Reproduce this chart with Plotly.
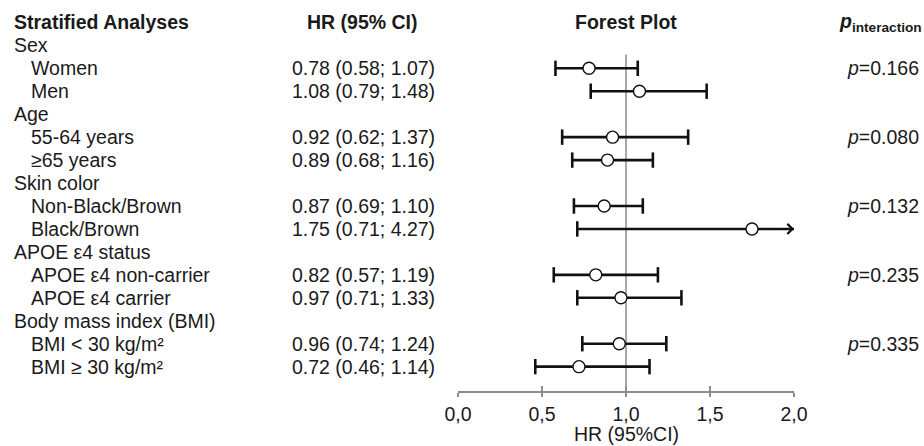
import plotly.graph_objects as go

# ---------------- data ----------------
groups = ["Sex", "Age", "Skin color", "APOE ε4 status", "Body mass index (BMI)"]
subgroups = [
    ["Women", "Men"],
    ["55-64 years", "≥65 years"],
    ["Non-Black/Brown", "Black/Brown"],
    ["APOE ε4 non-carrier", "APOE ε4 carrier"],
    ["BMI < 30 kg/m²", "BMI ≥ 30 kg/m²"],
]
hr = [[0.78, 1.08], [0.92, 0.89], [0.87, 1.75], [0.82, 0.97], [0.96, 0.72]]
ci_low = [[0.58, 0.79], [0.62, 0.68], [0.69, 0.71], [0.57, 0.71], [0.74, 0.46]]
ci_high = [[1.07, 1.48], [1.37, 1.16], [1.10, 4.27], [1.19, 1.33], [1.24, 1.14]]
p_interaction = ["0.166", "0.080", "0.132", "0.235", "0.335"]
tick_vals = [0.0, 0.5, 1.0, 1.5, 2.0]
tick_text = ["0,0", "0,5", "1,0", "1,5", "2,0"]
x_min, x_max = 0.0, 2.0
ref_value = 1.0

# ---------------- styling ----------------
W, H = 924, 446
ML, MR, MT, MB = 458, 130, 0, 55
FONT = "Liberation Sans, Arial, sans-serif"
FS = 19.5
TXT = "#1a1a1a"
GRAY = "#8c8c8c"

def px_to_paper(px):
    return (px - ML) / (W - ML - MR)

X_GROUP = px_to_paper(12)
X_SUB = px_to_paper(29)
X_VAL = px_to_paper(290)
X_HRHEAD = px_to_paper(362)
X_P = px_to_paper(921)

# ---------------- layout of rows ----------------
row_y = []      # (row index, label, is_group, gi, si)
r = 1
for gi, g in enumerate(groups):
    row_y.append((r, g, True, gi, None))
    r += 1
    for si, s in enumerate(subgroups[gi]):
        row_y.append((r, s, False, gi, si))
        r += 1
n_rows = r
row_px0, row_step, axis_px = 22.4, 22.95, H - MB
y_bottom = (axis_px - row_px0) / row_step
y_top = -row_px0 / row_step

fig = go.Figure()

ci_x, ci_y, cap_x, cap_y, pt_x, pt_y = [], [], [], [], [], []
arrows = []
annotations = []
for (ri, label, is_group, gi, si) in row_y:
    annotations.append(dict(
        x=X_GROUP if is_group else X_SUB, y=ri, xref="paper", yref="y",
        text=label, showarrow=False, xanchor="left", yanchor="middle",
        font=dict(family=FONT, size=FS, color=TXT)))
    if is_group:
        continue
    h, lo, hi = hr[gi][si], ci_low[gi][si], ci_high[gi][si]
    annotations.append(dict(
        x=X_VAL, y=ri, xref="paper", yref="y",
        text=f"{h:.2f} ({lo:.2f}; {hi:.2f})", showarrow=False,
        xanchor="left", yanchor="middle",
        font=dict(family=FONT, size=FS, color=TXT)))
    if si == 0:
        annotations.append(dict(
            x=X_P, y=ri, xref="paper", yref="y",
            text=f"<i>p</i>={p_interaction[gi]}", showarrow=False,
            xanchor="right", yanchor="middle",
            font=dict(family=FONT, size=FS, color=TXT)))
    hi_c = min(hi, x_max)
    ci_x += [lo, hi_c, None]
    ci_y += [ri, ri, None]
    cap_x.append(lo); cap_y.append(ri)
    if hi <= x_max:
        cap_x.append(hi); cap_y.append(ri)
    else:
        arrows.append(ri)
    pt_x.append(h); pt_y.append(ri)

# headers
hdr_font = dict(family=FONT, size=FS, color=TXT)
annotations += [
    dict(x=X_GROUP, y=0, xref="paper", yref="y", text="<b>Stratified Analyses</b>",
         showarrow=False, xanchor="left", yanchor="middle", font=hdr_font),
    dict(x=X_HRHEAD, y=0, xref="paper", yref="y", text="<b>HR (95% CI)</b>",
         showarrow=False, xanchor="center", yanchor="middle", font=hdr_font),
    dict(x=0.5, y=0, xref="paper", yref="y", text="<b>Forest Plot</b>",
         showarrow=False, xanchor="center", yanchor="middle", font=hdr_font),
    dict(x=X_P + 0.01, y=0, xref="paper", yref="y",
         text="<b><i>p</i><sub>interaction</sub></b>",
         showarrow=False, xanchor="right", yanchor="middle", font=hdr_font),
    dict(x=0.5, y=(axis_px - 434) / axis_px - 0.0, xref="paper", yref="paper",
         text="HR (95%CI)", showarrow=False, xanchor="center", yanchor="middle",
         font=dict(family=FONT, size=FS, color=TXT)),
]
for ri in arrows:
    annotations.append(dict(
        x=x_max, y=ri, xref="x", yref="y", ax=-24, ay=0,
        showarrow=True, arrowhead=4, arrowsize=1.5, arrowwidth=1.3,
        arrowcolor="#111", text=""))

fig.add_trace(go.Scatter(x=ci_x, y=ci_y, mode="lines",
                         line=dict(color="#111", width=2.6),
                         hoverinfo="skip", showlegend=False, cliponaxis=False))
fig.add_trace(go.Scatter(x=cap_x, y=cap_y, mode="markers",
                         marker=dict(symbol="line-ns", size=11,
                                     line=dict(color="#111", width=2.6)),
                         hoverinfo="skip", showlegend=False, cliponaxis=False))
fig.add_trace(go.Scatter(x=pt_x, y=pt_y, mode="markers",
                         marker=dict(symbol="circle", size=12, color="white",
                                     line=dict(color="#111", width=1.4)),
                         showlegend=False, cliponaxis=False))
# invisible trace for the upper tick half
fig.add_trace(go.Scatter(x=[x_min], y=[1], xaxis="x2", mode="markers",
                         marker=dict(opacity=0), hoverinfo="skip", showlegend=False))

# reference line at HR = 1
fig.add_shape(type="line", xref="x", yref="y", x0=ref_value, x1=ref_value,
              y0=1.4, y1=y_bottom, line=dict(color=GRAY, width=1.5), layer="below")

fig.update_layout(
    width=W, height=H,
    margin=dict(l=ML, r=MR, t=MT, b=MB, pad=0),
    paper_bgcolor="white", plot_bgcolor="white",
    annotations=annotations,
    xaxis=dict(range=[x_min, x_max], tickvals=tick_vals, ticktext=tick_text,
               showgrid=False, zeroline=False, showline=True, linecolor=GRAY,
               linewidth=1.5, ticks="outside", ticklen=4, tickwidth=1.5,
               tickcolor=GRAY, ticklabelstandoff=1,
               tickfont=dict(family=FONT, size=FS, color=TXT), fixedrange=True),
    xaxis2=dict(range=[x_min, x_max], overlaying="x", side="bottom",
                anchor="y", tickvals=tick_vals, showticklabels=False,
                showgrid=False, zeroline=False, showline=False,
                ticks="inside", ticklen=5, tickwidth=1.5, tickcolor=GRAY),
    yaxis=dict(range=[y_bottom, y_top], visible=False, showgrid=False,
               zeroline=False, fixedrange=True),
    showlegend=False,
)

fig.write_html("out.html")
